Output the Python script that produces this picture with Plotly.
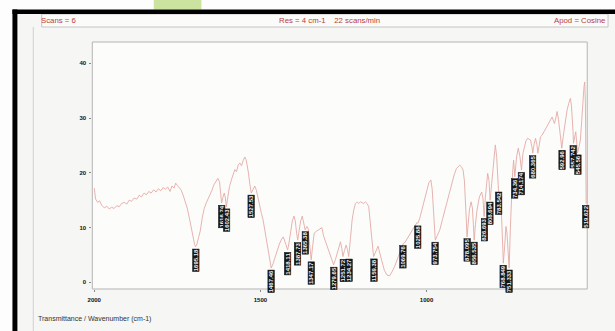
import plotly.graph_objects as go

W, H = 615, 331

# IR spectrum: wavenumber (cm-1) and transmittance (%)
wavenumber = [
    2000, 1996, 1990, 1984, 1978, 1970, 1962, 1955, 1948, 1940, 1932, 1925, 1918, 1910,
    1902, 1895, 1888, 1880, 1872, 1865, 1858, 1850, 1843, 1836, 1829, 1821, 1814, 1807,
    1800, 1793, 1786, 1779, 1772, 1766, 1760, 1755, 1750, 1745, 1739, 1733, 1727, 1720,
    1714, 1708, 1702, 1698, 1695.18, 1691, 1686, 1681, 1675, 1669, 1663, 1657, 1652, 1646,
    1640, 1634, 1628, 1623, 1620, 1616.74, 1613, 1609, 1606, 1602.43, 1598, 1593, 1587,
    1582, 1577, 1572, 1567, 1562, 1557, 1552, 1547, 1543, 1540, 1536, 1532, 1527.53, 1522,
    1517, 1512, 1507, 1502, 1497, 1492, 1487, 1482, 1477, 1472, 1467.46, 1462, 1456, 1450,
    1443, 1436, 1431, 1426, 1421, 1418.11, 1414, 1409, 1404, 1399, 1395, 1391, 1387.73,
    1384, 1379, 1374, 1370, 1365.38, 1360, 1356, 1352, 1347.17, 1343, 1338, 1332, 1326,
    1320, 1315, 1310, 1304, 1299, 1294, 1289, 1284, 1279.65, 1274, 1269, 1264, 1259, 1255,
    1251.72, 1247, 1242, 1238, 1234.27, 1229, 1224, 1219, 1214, 1209, 1204, 1199, 1194,
    1189, 1184, 1179, 1174, 1169, 1164, 1159.38, 1155, 1150, 1146, 1141, 1134, 1127, 1119,
    1111, 1104, 1096, 1085, 1077, 1073, 1069.76, 1066, 1060, 1055, 1048, 1041, 1035, 1029,
    1025.88, 1021, 1015, 1008, 1000, 993, 987, 983, 978, 973.754, 968, 960, 952, 945, 935,
    925, 917, 910, 904, 900, 895, 890, 886, 883, 880, 878.095, 875, 871, 866, 862, 859,
    856.535, 853, 848, 841, 834, 830, 826.693, 823, 820, 816, 812, 808.694, 804, 800, 796,
    793, 789, 786, 783.542, 779, 775, 771, 768.849, 765, 761, 758, 755, 751.333, 748, 745,
    741, 738, 734.36, 729, 724, 719, 714.174, 710, 706, 701, 696, 691, 687, 683, 680.365,
    677, 672, 668, 665, 661, 657, 652, 647, 642, 637, 632, 627, 622, 618, 615, 611, 607,
    603, 599, 595, 592.96, 589, 585, 582, 577, 572, 567, 564, 561, 559, 557.742, 554, 551,
    548, 545.56, 541, 537, 533, 529, 526, 524, 522, 521, 519.622,
]
transmittance = [
    17.2, 15.2, 14.6, 14.9, 14.1, 13.6, 13.9, 13.4, 13.7, 13.5, 14.0, 13.8, 14.4, 14.6,
    14.3, 15.0, 14.8, 15.4, 15.2, 15.9, 15.6, 16.3, 16.0, 16.6, 16.3, 16.9, 16.5, 17.1,
    16.7, 17.3, 17.0, 17.4, 16.6, 17.6, 17.2, 18.1, 17.7, 17.3, 16.9, 16.0, 15.0, 13.5,
    11.8, 9.8, 7.9, 6.9, 6.5, 7.0, 8.2, 9.4, 11.8, 13.5, 14.5, 15.3, 15.8, 16.8,
    17.8, 18.5, 19.0, 18.3, 16.8, 14.5, 15.5, 16.3, 15.6, 13.8, 15.6, 17.5, 18.8,
    19.6, 20.6, 20.2, 21.4, 21.8, 21.3, 22.2, 22.9, 22.4, 21.5, 20.0, 18.0, 16.3, 17.0,
    17.6, 16.8, 15.2, 13.8, 12.6, 11.4, 9.5, 7.5, 5.5, 3.6, 2.6, 3.4, 4.6, 5.8,
    7.0, 7.9, 8.3, 7.4, 6.3, 5.9, 7.2, 9.4, 11.2, 12.1, 11.2, 9.0, 7.7,
    9.2, 11.2, 12.1, 11.0, 9.6, 10.2, 9.8, 7.0, 4.1, 6.5, 9.0, 9.3, 9.6,
    9.8, 10.0, 8.5, 7.4, 6.5, 5.8, 4.7, 3.8, 3.2, 4.2, 5.3, 6.5, 7.4, 6.2,
    4.7, 5.8, 6.8, 6.0, 4.7, 8.0, 11.4, 13.2, 14.4, 14.7, 14.4, 14.7, 14.5,
    14.4, 14.7, 14.4, 13.8, 11.0, 8.0, 4.7, 5.3, 6.2, 6.6, 5.4, 3.5, 2.2, 1.3,
    1.2, 1.9, 2.9, 4.7, 6.0, 6.8, 7.1, 7.2, 7.8, 8.3, 9.0, 9.7, 10.2, 10.9,
    10.8, 11.6, 13.0, 14.8, 16.9, 18.2, 18.7, 17.0, 12.0, 7.7, 8.5, 9.6, 11.5, 13.2, 15.5,
    18.1, 19.6, 20.8, 21.3, 21.4, 21.1, 20.5, 18.5, 15.6, 11.0, 8.3, 10.5, 13.2, 14.7, 13.6, 10.5,
    7.7, 10.5, 13.2, 15.6, 16.5, 15.2, 12.0, 15.5, 18.1, 19.9, 18.6, 15.0, 18.0, 20.5, 23.5,
    25.1, 23.0, 20.0, 16.9, 15.0, 13.2, 7.0, 3.5, 6.5, 10.2, 9.0, 6.0, 2.6, 9.5, 15.5,
    20.0, 22.3, 19.3, 22.9, 24.5, 23.0, 20.5, 23.5, 24.8, 25.8, 26.3, 26.2, 26.0, 24.8, 23.6,
    25.0, 26.3, 25.2, 23.6, 25.0, 26.6, 26.9, 27.5, 28.1, 28.4, 29.0, 29.6, 30.2, 29.5, 29.0, 30.0, 31.2,
    29.8, 27.8, 25.6, 24.5, 26.5, 28.5, 29.6, 31.5, 32.7, 33.6, 32.3, 30.2, 27.5, 25.4, 26.8, 27.5,
    25.5, 23.6, 24.8, 26.0, 29.5, 33.9, 35.8, 36.6, 33.0, 26.6, 14.4,
]

# Picked band positions (cm-1)
peak_positions = [
    1695.18, 1616.74, 1602.43, 1527.53, 1467.46, 1418.11, 1387.73, 1365.38, 1347.17,
    1279.65, 1251.72, 1234.27, 1159.38, 1069.76, 1025.88, 973.754, 878.095, 856.535,
    826.693, 808.694, 783.542, 768.849, 751.333, 734.36, 714.174, 680.365, 592.96,
    557.742, 545.56, 519.622,
]

x_ticks = [2000, 1500, 1000]
y_ticks = [0, 10, 20, 30, 40]

header_left = "Scans = 6"
header_mid = "Res = 4 cm-1    22 scans/min"
header_right = "Apod = Cosine"
footer = "Transmittance / Wavenumber (cm-1)"


def px(x):
    return x / W


def py(y):
    return 1 - y / H


fig = go.Figure()
fig.add_trace(go.Scatter(
    x=wavenumber, y=transmittance, mode="lines",
    line=dict(color="#e4aaa5", width=0.9), hoverinfo="skip", showlegend=False,
))

lookup = dict(zip(wavenumber, transmittance))
annotations = []
for wn in peak_positions:
    annotations.append(dict(
        x=wn, y=lookup[wn], xref="x", yref="y", text=f"<b>{wn:.6g}</b>",
        textangle=-90, showarrow=False, yanchor="top", xanchor="center", yshift=-2,
        font=dict(family="Liberation Sans", size=6, color="#f2f2f2"),
        bgcolor="#151515", bordercolor="#151515", borderwidth=0.5, borderpad=0,
    ))

hdr_font = dict(family="Liberation Sans", size=7.8, color="#b8403c")
annotations += [
    dict(x=px(34), y=py(20.5), xref="paper", yref="paper", text=header_left,
         showarrow=False, xanchor="left", yanchor="middle", font=hdr_font),
    dict(x=px(327), y=py(20.5), xref="paper", yref="paper", text=header_mid,
         showarrow=False, xanchor="center", yanchor="middle", font=hdr_font),
    dict(x=px(607), y=py(20.5), xref="paper", yref="paper", text=header_right,
         showarrow=False, xanchor="right", yanchor="middle", font=hdr_font),
    dict(x=px(31), y=py(319), xref="paper", yref="paper", text=footer,
         showarrow=False, xanchor="left", yanchor="middle",
         font=dict(family="Liberation Sans", size=7, color="#333333")),
]

shapes = [
    # page decorations outside the frame
    dict(type="rect", xref="paper", yref="paper", x0=px(150), x1=px(198), y0=py(9.5), y1=py(0),
         fillcolor="#cbe39e", line=dict(width=0), layer="below"),
    # printed page
    dict(type="rect", xref="paper", yref="paper", x0=px(12), x1=1, y0=0, y1=py(14),
         fillcolor="#f6f6f4", line=dict(width=0), layer="below"),
    dict(type="line", xref="paper", yref="paper", x0=px(28.5), x1=px(28.5), y0=0, y1=py(27),
         line=dict(color="#d0d0d0", width=1)),
    # header box
    dict(type="rect", xref="paper", yref="paper", x0=px(37), x1=px(608), y0=py(27), y1=py(14),
         fillcolor="#fbfbfa", line=dict(color="#c4c4c4", width=1), layer="below"),
    # plot panel
    dict(type="rect", xref="paper", yref="paper", x0=px(88), x1=px(587), y0=py(289), y1=py(42),
         fillcolor="#fcfcfb", line=dict(color="#b4b4b4", width=1), layer="below"),
    # black scan frame
    dict(type="rect", xref="paper", yref="paper", x0=px(7.5), x1=1, y0=py(14), y1=py(9.5),
         fillcolor="#000000", line=dict(width=0)),
    dict(type="rect", xref="paper", yref="paper", x0=px(7.5), x1=px(12.5), y0=0, y1=py(9.5),
         fillcolor="#000000", line=dict(width=0)),
]

axis_font = dict(family="Liberation Sans", size=6, color="#111111")
fig.update_layout(
    width=W, height=H, margin=dict(l=0, r=0, t=0, b=0),
    paper_bgcolor="#fdfdfd", plot_bgcolor="rgba(0,0,0,0)",
    showlegend=False, annotations=annotations, shapes=shapes,
    xaxis=dict(
        domain=[px(88), px(587)], range=[2006, 516.4], tickvals=x_ticks,
        ticktext=[f"<b>{v}</b>" for v in x_ticks], tickfont=axis_font,
        ticks="outside", ticklen=2, tickcolor="#888888", showgrid=False, zeroline=False,
        showline=False, ticklabelstandoff=3,
    ),
    yaxis=dict(
        domain=[py(289), py(42)], range=[-1.22, 43.9], tickvals=y_ticks,
        ticktext=[f"<b>{v}</b>" for v in y_ticks], tickfont=axis_font,
        ticks="outside", ticklen=2, tickcolor="#888888", showgrid=False, zeroline=False,
        showline=False, ticklabelstandoff=2,
    ),
)

fig.write_html("out.html")
